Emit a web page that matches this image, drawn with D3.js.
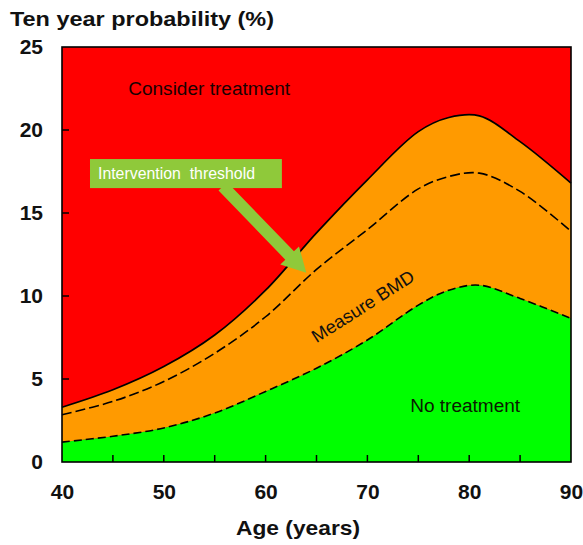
<!DOCTYPE html>
<html>
<head>
<meta charset="utf-8">
<script src="https://cdn.jsdelivr.net/npm/d3@7"></script>
<style>
  html, body { margin: 0; padding: 0; background: #fff; }
  svg { display: block; }
  text { font-family: "Liberation Sans", Arial, sans-serif; }
</style>
</head>
<body>
<script>
// ---- Data ----
const ages   = [40, 45, 50, 55, 60, 65, 70, 75, 78, 81, 85, 90];
const upperThreshold = [3.3, 4.35, 5.75, 7.65, 10.35, 13.8, 17.0, 19.9, 20.75, 20.85, 19.3, 16.8];
const interventionThreshold = [2.85, 3.65, 4.85, 6.55, 8.75, 11.6, 14.0, 16.45, 17.2, 17.4, 16.3, 13.9];
const lowerThreshold = [1.2, 1.55, 2.05, 2.95, 4.25, 5.65, 7.35, 9.45, 10.35, 10.65, 9.85, 8.65];
const yTickValues = [0, 5, 10, 15, 20, 25];
const xTickValues = [40, 50, 60, 70, 80, 90];
const xMinorTicks = [45, 50, 55, 60, 65, 70, 75, 80, 85];
const yMinorTicks = [5, 10, 15, 20];
const yTitle = "Ten year probability (%)";
const xTitle = "Age (years)";
const regionLabels = ["Consider treatment", "Measure BMD", "No treatment"];
const calloutLabel = "Intervention  threshold";

const W = 583, H = 545;
const margin = { left: 62, right: 12, top: 47, bottom: 83 };

const svg = d3.select("body").append("svg").attr("width", W).attr("height", H);

const x = d3.scaleLinear().domain([40, 90]).range([margin.left, W - margin.right]);
const y = d3.scaleLinear().domain([0, 25]).range([H - margin.bottom, margin.top]);

const rows = ages.map((a, i) => ({ age: a, up: upperThreshold[i], mid: interventionThreshold[i], low: lowerThreshold[i] }));
const curve = d3.curveCatmullRom.alpha(0.5);

// red background (consider treatment)
svg.append("rect")
  .attr("x", x(40)).attr("y", y(25))
  .attr("width", x(90) - x(40)).attr("height", y(0) - y(25))
  .attr("fill", "#ff0000");

// orange band
svg.append("path").datum(rows)
  .attr("fill", "#ff9a00")
  .attr("d", d3.area().x(d => x(d.age)).y0(d => y(d.low)).y1(d => y(d.up)).curve(curve));

// green area
svg.append("path").datum(rows)
  .attr("fill", "#00ff00")
  .attr("d", d3.area().x(d => x(d.age)).y0(y(0)).y1(d => y(d.low)).curve(curve));

// lines
svg.append("path").datum(rows)
  .attr("fill", "none").attr("stroke", "#000").attr("stroke-width", 1.7)
  .attr("d", d3.line().x(d => x(d.age)).y(d => y(d.up)).curve(curve));
svg.append("path").datum(rows)
  .attr("fill", "none").attr("stroke", "#000").attr("stroke-width", 1.6)
  .attr("stroke-dasharray", "10,4")
  .attr("d", d3.line().x(d => x(d.age)).y(d => y(d.mid)).curve(curve));
svg.append("path").datum(rows)
  .attr("fill", "none").attr("stroke", "#000").attr("stroke-width", 1.6)
  .attr("stroke-dasharray", "8,4")
  .attr("d", d3.line().x(d => x(d.age)).y(d => y(d.low)).curve(curve));

// plot frame
svg.append("rect")
  .attr("x", x(40)).attr("y", y(25))
  .attr("width", x(90) - x(40)).attr("height", y(0) - y(25))
  .attr("fill", "none").attr("stroke", "#000").attr("stroke-width", 1.6);

// inner ticks
svg.append("g").selectAll("line").data(xMinorTicks).join("line")
  .attr("x1", d => x(d)).attr("x2", d => x(d))
  .attr("y1", y(0)).attr("y2", y(0) - 7)
  .attr("stroke", "#000").attr("stroke-width", 1.5);
svg.append("g").selectAll("line").data(yMinorTicks).join("line")
  .attr("x1", x(40)).attr("x2", x(40) + 7)
  .attr("y1", d => y(d)).attr("y2", d => y(d))
  .attr("stroke", "#000").attr("stroke-width", 1.5);

// axes labels via d3 axes (no lines)
const yAxis = svg.append("g").attr("transform", `translate(${x(40)},0)`)
  .call(d3.axisLeft(y).tickValues(yTickValues).tickSize(0).tickPadding(19));
const xAxis = svg.append("g").attr("transform", `translate(0,${y(0)})`)
  .call(d3.axisBottom(x).tickValues(xTickValues).tickSize(0).tickPadding(22));
[yAxis, xAxis].forEach(g => {
  g.select(".domain").remove();
  g.selectAll("text").attr("font-size", 21).attr("font-weight", "bold")
    .attr("fill", "#111").style("font-family", '"Liberation Sans", Arial, sans-serif');
});

// titles
svg.append("text").attr("x", 10).attr("y", 26)
  .attr("font-size", 21).attr("font-weight", "bold").attr("fill", "#111")
  .attr("textLength", 264).attr("lengthAdjust", "spacingAndGlyphs")
  .text(yTitle);
svg.append("text").attr("x", 236).attr("y", 535)
  .attr("font-size", 21).attr("font-weight", "bold").attr("fill", "#111")
  .attr("textLength", 124).attr("lengthAdjust", "spacingAndGlyphs")
  .text(xTitle);

// region labels
svg.append("text").attr("x", x(46.5)).attr("y", y(22.11))
  .attr("font-size", 18).attr("fill", "#1a0000")
  .attr("textLength", 162).attr("lengthAdjust", "spacingAndGlyphs")
  .text(regionLabels[0]);
svg.append("text")
  .attr("transform", `translate(${x(65.0)},${y(7.15)}) rotate(-32.6)`)
  .attr("font-size", 18).attr("fill", "#111")
  .attr("textLength", 118).attr("lengthAdjust", "spacingAndGlyphs")
  .text(regionLabels[1]);
svg.append("text").attr("x", x(74.2)).attr("y", y(3.0))
  .attr("font-size", 18).attr("fill", "#0a1a00")
  .attr("textLength", 110).attr("lengthAdjust", "spacingAndGlyphs")
  .text(regionLabels[2]);

// callout box + arrow
const calloutColor = "#8fc93a";
const boxX0 = x(42.75), boxX1 = x(61.6), boxY0 = y(18.25), boxY1 = y(16.5);
const sx = x(55.8), sy = y(16.6), tx = x(64.0), ty = y(11.4);
const dx = tx - sx, dy = ty - sy, L = Math.hypot(dx, dy);
const ux = dx / L, uy = dy / L, px = -uy, py = ux;
const shaftW = 6, headW = 13, headL = 24;
const bx = tx - ux * headL, by = ty - uy * headL;
const arrowPts = [
  [sx + px * shaftW, sy + py * shaftW],
  [bx + px * shaftW, by + py * shaftW],
  [bx + px * headW, by + py * headW],
  [tx, ty],
  [bx - px * headW, by - py * headW],
  [bx - px * shaftW, by - py * shaftW],
  [sx - px * shaftW, sy - py * shaftW]
];
svg.append("path").attr("d", d3.line()(arrowPts) + "Z").attr("fill", calloutColor);
svg.append("rect").attr("x", boxX0).attr("y", boxY0)
  .attr("width", boxX1 - boxX0).attr("height", boxY1 - boxY0)
  .attr("fill", calloutColor);
svg.append("text").attr("x", boxX0 + 8).attr("y", boxY0 + 20)
  .attr("font-size", 16).attr("fill", "#ffffff")
  .attr("textLength", 157).attr("lengthAdjust", "spacingAndGlyphs")
  .style("white-space", "pre")
  .text(calloutLabel);
</script>
</body>
</html>
